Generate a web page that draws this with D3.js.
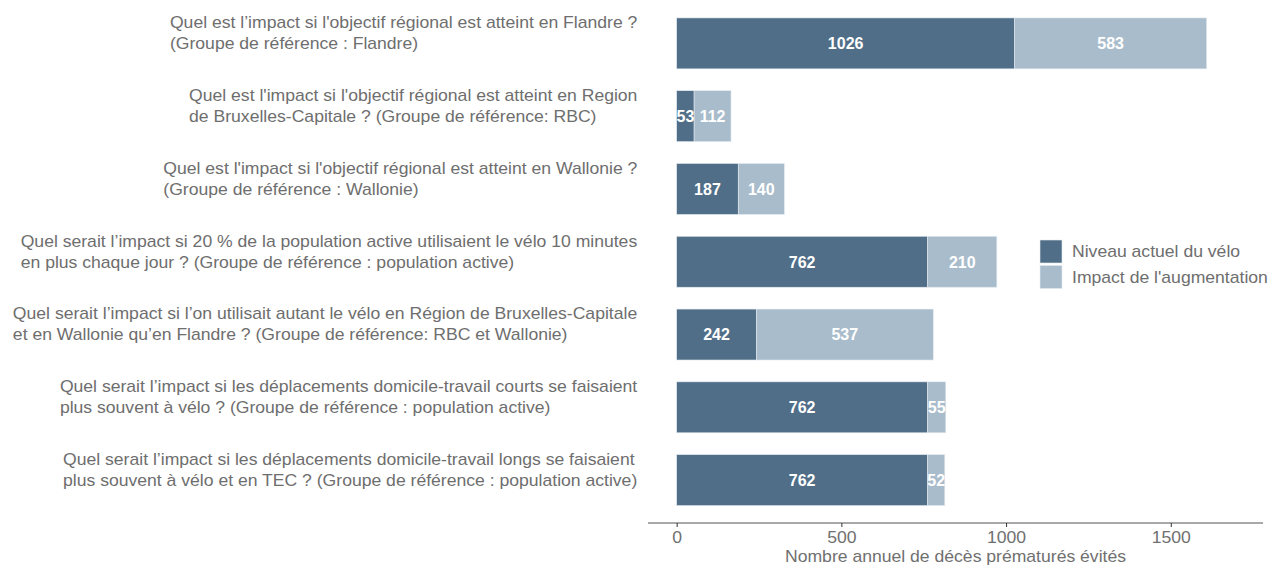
<!DOCTYPE html>
<html>
<head>
<meta charset="utf-8">
<script src="https://cdn.jsdelivr.net/npm/d3@7"></script>
<style>
  html, body { margin: 0; padding: 0; background: #ffffff; }
  svg { display: block; font-family: "Liberation Sans", Arial, sans-serif; }
</style>
</head>
<body>
<svg id="chart" width="1269" height="566"></svg>
<script>
// Scenario questions (two lines each), top to bottom
const questions = [
  ["Quel est l\u2019impact si l'objectif régional est atteint en Flandre ?", "(Groupe de référence : Flandre)"],
  ["Quel est l'impact si l'objectif régional est atteint en Region", "de Bruxelles-Capitale ? (Groupe de référence: RBC)"],
  ["Quel est l'impact si l'objectif régional est atteint en Wallonie ?", "(Groupe de référence : Wallonie)"],
  ["Quel serait l\u2019impact si 20 % de la population active utilisaient le vélo 10 minutes", "en plus chaque jour ? (Groupe de référence : population active)"],
  ["Quel serait l\u2019impact si l\u2019on utilisait autant le vélo en Région de Bruxelles-Capitale", "et en Wallonie qu\u2019en Flandre ? (Groupe de référence: RBC et Wallonie)"],
  ["Quel serait l\u2019impact si les déplacements domicile-travail courts se faisaient", "plus souvent à vélo ? (Groupe de référence : population active)"],
  ["Quel serait l\u2019impact si les déplacements domicile-travail longs se faisaient", "plus souvent à vélo et en TEC ? (Groupe de référence : population active)"]
];

// Premature deaths avoided per year
const currentLevel = [1026, 53, 187, 762, 242, 762, 762];
const increaseImpact = [583, 112, 140, 210, 537, 55, 52];

const seriesNames = ["Niveau actuel du vélo", "Impact de l'augmentation"];
const seriesColors = ["#506e87", "#a9bccb"];
const xTicks = [0, 500, 1000, 1500];
const xTitle = "Nombre annuel de décès prématurés évités";

const svg = d3.select("#chart");

const panel = { left: 648, right: 1263, top: 7, bottom: 516.5 };
const axisY = 523;
const textColor = "#6e6e6e";
const widen = 1.1; // horizontal stretch of the grey text

const x = d3.scaleLinear().domain([-87, 1780]).range([panel.left, panel.right]);
const y = d3.scaleBand()
  .domain(d3.range(questions.length))
  .range([panel.top, panel.bottom])
  .paddingInner(0.3)
  .paddingOuter(0.15);

const rows = questions.map((q, i) => ({
  i,
  segs: [
    { k: 0, x0: 0, x1: currentLevel[i], v: currentLevel[i] },
    { k: 1, x0: currentLevel[i], x1: currentLevel[i] + increaseImpact[i], v: increaseImpact[i] }
  ]
}));

// Stacked bars
const g = svg.append("g");
rows.forEach(r => {
  r.segs.forEach(s => {
    g.append("rect")
      .attr("x", x(s.x0))
      .attr("y", y(r.i))
      .attr("width", x(s.x1) - x(s.x0))
      .attr("height", y.bandwidth())
      .attr("fill", seriesColors[s.k])
      .attr("stroke", "#e3eaf0")
      .attr("stroke-width", 0.6);
  });
});

// Value labels centred in each segment
rows.forEach(r => {
  r.segs.forEach(s => {
    g.append("text")
      .attr("x", (x(s.x0) + x(s.x1)) / 2)
      .attr("y", y(r.i) + y.bandwidth() / 2)
      .attr("dy", "0.36em")
      .attr("text-anchor", "middle")
      .attr("fill", "#ffffff")
      .attr("font-weight", "bold")
      .attr("font-size", 16)
      .text(s.v);
  });
});

// Row labels: lines left-aligned, block right-aligned against the panel
const labelRight = 638;
const lineGap = 21;
const labels = svg.append("g").attr("fill", textColor).attr("font-size", 16);
questions.forEach((lines, i) => {
  const cy = y(i) + y.bandwidth() / 2;
  const t = labels.append("text");
  lines.forEach((ln, j) => {
    t.append("tspan")
      .attr("x", 0)
      .attr("y", cy - (lines.length - 1 - j) * lineGap)
      .attr("dy", "0.36em")
      .text(ln);
  });
  const w = d3.max(t.selectAll("tspan").nodes(), n => n.getComputedTextLength());
  t.attr("transform", `translate(${labelRight - w * widen},0) scale(${widen},1)`);
});

// Bottom axis
const axis = svg.append("g")
  .attr("transform", `translate(0,${axisY})`)
  .call(d3.axisBottom(x).tickValues(xTicks).tickSize(4).tickPadding(5).tickFormat(d3.format("d")));
axis.select(".domain").attr("stroke", "#555555").attr("stroke-width", 1.2).attr("d", `M${panel.left},0H${panel.right}`);
axis.selectAll(".tick line").attr("stroke", "#333333");
axis.selectAll(".tick text")
  .attr("fill", "#707070")
  .attr("font-size", 16)
  .attr("font-family", "Liberation Sans, Arial, sans-serif")
  .attr("transform", `scale(${widen},1)`);

const cx = (panel.left + panel.right) / 2;
svg.append("text")
  .attr("transform", `translate(${cx},561.5) scale(${widen},1)`)
  .attr("text-anchor", "middle")
  .attr("fill", "#707070")
  .attr("font-size", 16)
  .text(xTitle);

// Legend
const legend = svg.append("g").attr("transform", "translate(1040,240)");
seriesNames.forEach((name, k) => {
  legend.append("rect")
    .attr("x", 0)
    .attr("y", k * 25.5)
    .attr("width", 22)
    .attr("height", 23)
    .attr("fill", seriesColors[k])
    .attr("stroke", "#e3eaf0")
    .attr("stroke-width", 0.6);
  legend.append("text")
    .attr("transform", `translate(32,${k * 25.5 + 11.5}) scale(${widen},1)`)
    .attr("dy", "0.36em")
    .attr("fill", textColor)
    .attr("font-size", 16)
    .text(name);
});
</script>
</body>
</html>
